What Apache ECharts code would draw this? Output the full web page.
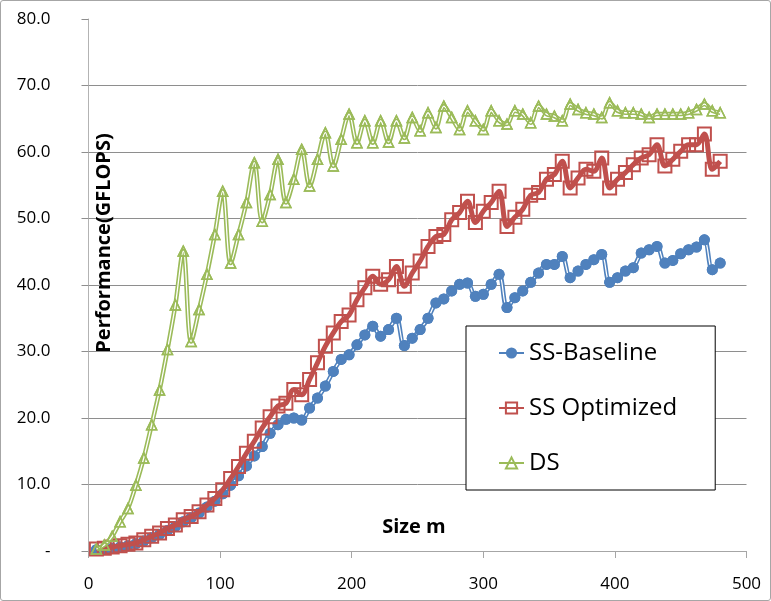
<!DOCTYPE html>
<html>
<head>
<meta charset="utf-8">
<script src="https://cdn.jsdelivr.net/npm/echarts@6/dist/echarts.min.js"></script>
<style>
html,body{margin:0;padding:0;background:#fff;}
#frame{position:absolute;left:0;top:0;width:769px;height:599px;border:1px solid #a6a6a6;border-radius:3px;}
#chart{position:absolute;left:0;top:0;width:771px;height:601px;}
</style>
</head>
<body>
<div id="frame"></div>
<div id="chart"></div>
<script>
// Matrix size m: 6, 12, ..., 480
const sizes = [6,12,18,24,30,36,42,48,54,60,66,72,78,84,90,96,102,108,114,120,
  126,132,138,144,150,156,162,168,174,180,186,192,198,204,210,216,222,228,234,240,
  246,252,258,264,270,276,282,288,294,300,306,312,318,324,330,336,342,348,354,360,
  366,372,378,384,390,396,402,408,414,420,426,432,438,444,450,456,462,468,474,480];

const ssBaseline = [0.2,0.3,0.4,0.6,0.8,1.1,1.5,2.0,2.5,3.1,3.7,4.4,5.0,5.7,6.6,7.5,8.6,9.9,11.3,12.8,
  14.3,15.7,17.7,19.0,19.8,20.0,19.7,21.5,23.0,24.8,27.0,28.8,29.5,31.0,32.5,33.8,32.3,33.3,35.0,30.9,
  32.0,33.3,35.0,37.3,37.9,39.1,40.1,40.3,38.3,38.6,40.1,41.6,36.6,38.1,39.1,40.4,41.8,43.1,43.1,44.3,
  41.1,42.1,43.1,43.8,44.6,40.4,41.1,42.1,42.6,44.8,45.3,45.8,43.3,43.7,44.7,45.3,45.7,46.8,42.3,43.3];

const ssOptimized = [0.3,0.4,0.6,0.8,1.0,1.2,1.7,2.2,2.7,3.4,3.9,4.7,5.2,5.9,6.9,7.9,9.2,10.9,12.7,14.7,
  16.5,18.5,20.2,21.8,22.2,24.3,23.5,25.8,28.3,30.8,32.8,34.5,35.5,37.8,39.6,41.3,40.1,40.8,42.8,39.8,
  41.8,43.6,45.8,47.3,47.6,49.8,50.9,52.6,49.4,51.1,52.4,54.1,48.8,50.2,51.4,53.5,53.9,55.9,56.6,58.6,
  54.6,56.1,57.4,57.1,59.1,54.6,55.9,56.9,58.1,59.1,59.6,61.1,57.9,58.9,60.1,61.1,61.1,62.7,57.4,58.6];

const ds = [0.3,0.9,2.2,4.4,6.4,9.9,14.0,19.0,24.2,30.3,37.0,45.1,31.5,36.3,41.6,47.6,54.1,43.3,47.6,52.4,
  58.4,49.6,53.6,58.9,52.4,55.9,60.4,54.9,58.9,62.9,57.9,61.9,65.7,61.4,64.7,61.4,64.7,61.5,64.7,62.1,
  65.2,63.2,65.9,63.7,66.9,65.2,63.4,66.2,64.7,63.4,66.2,64.7,64.2,66.2,65.7,64.4,66.9,65.7,65.4,64.7,
  67.2,66.4,65.9,65.7,65.2,67.4,66.2,65.9,65.9,65.7,65.2,65.7,65.7,65.7,65.7,65.9,66.4,67.2,66.2,65.9];

const xTicks = {min:0, max:500, interval:100};
const yTicks = {min:0, max:80, interval:10};
const seriesNames = ['SS-Baseline','SS Optimized','DS'];
const xTitle = 'Size m';
const yTitle = 'Performance(GFLOPS)';

const BLUE='#4f81bd', RED='#c0504d', GREEN='#9bbb59';
const FONT='"Open Sans", "DejaVu Sans", sans-serif';
const SMOOTH=0.35;
const pair = arr => sizes.map((x,i)=>[x,arr[i]]);

const chart = echarts.init(document.getElementById('chart'), null, {renderer:'canvas'});
const gridColors = [];
for (let v = yTicks.min; v <= yTicks.max; v += yTicks.interval) gridColors.push(v === yTicks.max ? 'rgba(0,0,0,0)' : '#8e8e8e');

chart.setOption({
  animation:false,
  backgroundColor:'transparent',
  grid:{left:88.5, right:24.5, top:19, bottom:50, containLabel:false},
  xAxis:{
    type:'value', min:xTicks.min, max:xTicks.max, interval:xTicks.interval,
    axisLine:{show:true, onZero:false, lineStyle:{color:'#a6a6a6', width:1}},
    axisTick:{show:true, inside:false, length:7, lineStyle:{color:'#a6a6a6'}},
    splitLine:{show:false},
    axisLabel:{margin:25, color:'#000', fontFamily:FONT, fontSize:17}
  },
  yAxis:{
    type:'value', min:yTicks.min, max:yTicks.max, interval:yTicks.interval,
    axisLine:{show:true, lineStyle:{color:'#b3b3b3', width:1}},
    axisTick:{show:true, inside:false, length:7, lineStyle:{color:'#8e8e8e'}},
    splitLine:{show:true, lineStyle:{color:gridColors, width:1}},
    axisLabel:{margin:38, color:'#000', fontFamily:FONT, fontSize:17, align:'right',
      formatter: v => v === 0 ? '-' : v.toFixed(1)}
  },
  legend:{
    orient:'vertical', left:466, top:326,
    data:seriesNames,
    backgroundColor:'#fff', borderColor:'#000', borderWidth:1, borderRadius:0,
    padding:[12,38,12,32],
    itemWidth:25, itemHeight:14, itemGap:25,
    textStyle:{fontFamily:FONT, fontSize:24, color:'#000', lineHeight:30}
  },
  graphic:[
    {type:'text', x:104, y:243, rotation:Math.PI/2, z:100,
      style:{text:yTitle, font:'bold 20px '+FONT, fill:'#000', textAlign:'center', textVerticalAlign:'middle'}},
    {type:'text', x:414, y:527, z:100,
      style:{text:xTitle, font:'bold 20px '+FONT, fill:'#000', textAlign:'center', textVerticalAlign:'middle'}}
  ],
  series:[
    // SS-Baseline: double line + filled circles
    {name:seriesNames[0], type:'line', data:pair(ssBaseline), z:2, smooth:SMOOTH,
      lineStyle:{color:BLUE, width:4.5}, itemStyle:{color:BLUE},
      symbol:'circle', symbolSize:11, showSymbol:true},
    {name:'_b1', type:'line', data:pair(ssBaseline), z:2, silent:true, showSymbol:false, symbol:'none', smooth:SMOOTH,
      lineStyle:{color:'#fff', width:1.3}},
    {name:'_b2', type:'line', data:pair(ssBaseline), z:2, silent:true, symbol:'circle', symbolSize:11,
      lineStyle:{width:0, opacity:0}, itemStyle:{color:BLUE}},
    // SS Optimized: thick line + hollow squares
    {name:seriesNames[1], type:'line', data:pair(ssOptimized), z:3, smooth:SMOOTH,
      lineStyle:{color:RED, width:5}, itemStyle:{color:'rgba(255,255,255,0)', borderColor:RED, borderWidth:2},
      symbol:'rect', symbolSize:13, showSymbol:true},
    // DS: double line + hollow triangles
    {name:seriesNames[2], type:'line', data:pair(ds), z:4, smooth:SMOOTH,
      lineStyle:{color:GREEN, width:4.5}, itemStyle:{color:'rgba(255,255,255,0)', borderColor:GREEN, borderWidth:1.5},
      symbol:'triangle', symbolSize:10, showSymbol:true},
    {name:'_d1', type:'line', data:pair(ds), z:4, silent:true, showSymbol:false, symbol:'none', smooth:SMOOTH,
      lineStyle:{color:'#fff', width:1.3}},
    {name:'_d2', type:'line', data:pair(ds), z:4, silent:true, symbol:'triangle', symbolSize:10,
      lineStyle:{width:0, opacity:0}, itemStyle:{color:'rgba(255,255,255,0)', borderColor:GREEN, borderWidth:1.5}}
  ]
});
</script>
</body>
</html>
